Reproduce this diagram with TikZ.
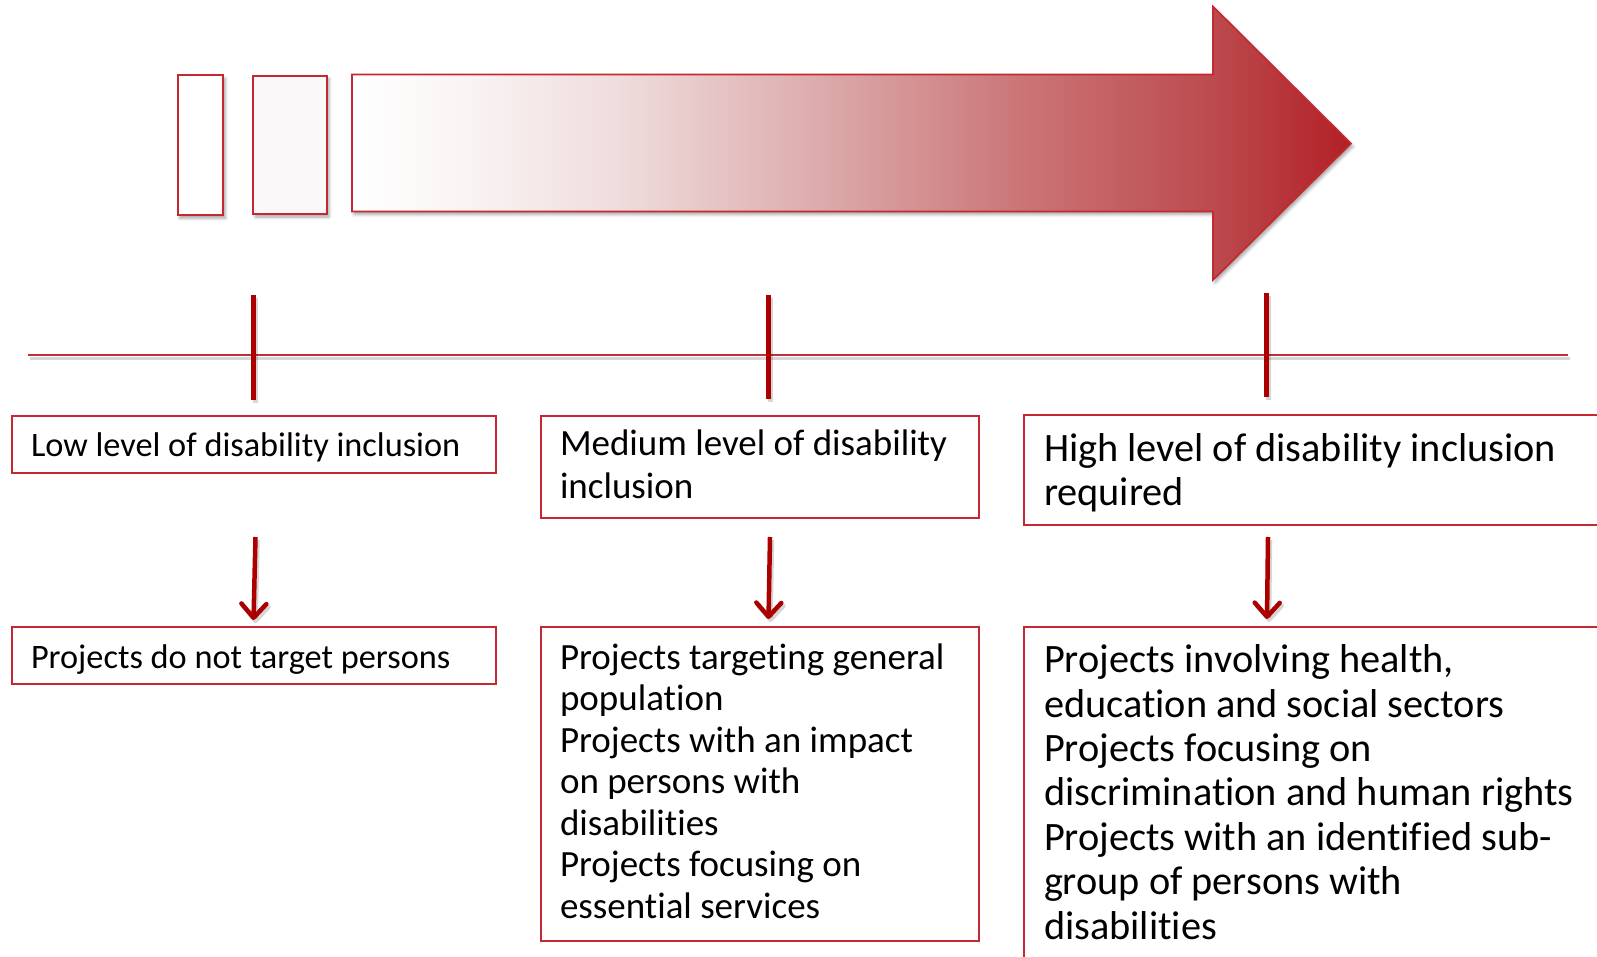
\documentclass[tikz,border=0pt]{standalone}
\usepackage{fontspec}
\setmainfont{Carlito}[RawFeature={-liga;-clig}]
\usetikzlibrary{arrows.meta,shadows.blur}
\definecolor{boxred}{RGB}{196,40,48}
\definecolor{tickred}{RGB}{172,0,0}
\definecolor{linered}{RGB}{192,48,58}
\definecolor{ga}{RGB}{250,245,245}
\definecolor{gb}{RGB}{240,222,222}
\definecolor{gc}{RGB}{220,172,173}
\definecolor{gd}{RGB}{203,118,120}
\definecolor{ge}{RGB}{188,74,78}
\definecolor{gf}{RGB}{178,32,38}
\definecolor{lightfill}{RGB}{250,248,249}
\pgfdeclarehorizontalshading{arrowgrad}{100bp}{color(0bp)=(white); color(25bp)=(white); color(30.3bp)=(ga); color(38bp)=(gb); color(48.2bp)=(gc); color(58.3bp)=(gd); color(68.1bp)=(ge); color(75bp)=(gf); color(100bp)=(gf)}
\begin{document}
\begin{tikzpicture}[x=1pt,y=-1pt,
  box/.style={draw=boxred, line width=2pt, inner sep=0pt, outer sep=0pt, anchor=north west},
  txt/.style={anchor=north west, inner sep=0pt, outer sep=0pt, align=left, text=black},
  tickln/.style={draw=tickred, line width=5pt},
  downarr/.style={draw=tickred, line width=4.5pt, -{Straight Barb[length=14pt,width=25pt,round]}},
  shadowed/.style={blur shadow={shadow xshift=2pt, shadow yshift=-3pt, shadow blur radius=3pt, shadow opacity=35}},
  lnshadow/.style={draw=black, opacity=0.16, transform canvas={shift={(2pt,-3pt)}}},
  smallbox/.style={draw=boxred, line width=2.2pt, inner sep=0pt, outer sep=0pt, anchor=north west, shadowed}
]
\useasboundingbox (0,0) rectangle (1597,957);
\clip (0,0) rectangle (1597,957);

% small rectangles
\node[smallbox, fill=white, minimum width=45.6pt, minimum height=140pt] (r1) at (177.7,75.3) {};
\node[smallbox, fill=lightfill, minimum width=73.7pt, minimum height=138.3pt] (r2) at (253.3,75.7) {};

% big gradient arrow
\path[shadowed, draw=boxred, line width=1.6pt, shade, shading=arrowgrad, line join=miter]
  (352,74.5) -- (1213,74.5) -- (1213,6.5) -- (1351,143.5) -- (1213,280) -- (1213,211.5) -- (352,211.5) -- cycle;

% horizontal axis
\coordinate (axl) at (27.5,355);
\coordinate (axr) at (1568,355);
\draw[lnshadow, line width=3pt] (axl) -- (axr);
\draw[draw=linered, line width=2.2pt] (axl) -- (axr);

% ticks
\coordinate (t1a) at (253.5,295); \coordinate (t1b) at (253.5,400);
\coordinate (t2a) at (768,295);   \coordinate (t2b) at (768,399);
\coordinate (t3a) at (1266,293);  \coordinate (t3b) at (1266,397);
\foreach \a/\b in {t1a/t1b,t2a/t2b,t3a/t3b}{
  \draw[tickln, lnshadow] (\a) -- (\b);
  \draw[tickln] (\a) -- (\b);
}

% boxes
\node[box, minimum width=484pt, minimum height=57.3pt] (lowtop) at (11.7,416) {};
\node[box, minimum width=484.3pt, minimum height=57pt] (lowbot) at (11.7,627.3) {};
\node[box, minimum width=438.3pt, minimum height=102.3pt] (midtop) at (541,416) {};
\node[box, minimum width=438.3pt, minimum height=313.4pt] (midbot) at (541,627.3) {};
\node[box, minimum width=600pt, minimum height=110pt] (hightop) at (1024,415.3) {};
\node[box, minimum width=600pt, minimum height=360pt] (highbot) at (1024,627.3) {};

% texts
\node[txt, font=\fontsize{34.3}{40}\selectfont] (lowtoptext) at (31,426)
  {\rule{0pt}{30pt}Low level of disability inclusion};
\node[txt, font=\fontsize{34.3}{40}\selectfont] (lowbottext) at (31,638.7)
  {\rule{0pt}{30pt}Projects do not target persons};
\node[txt, font=\fontsize{37}{42.6}\selectfont] (midtoptext) at (560,423.7)
  {\rule{0pt}{32pt}Medium level of disability\\inclusion};
\node[txt, font=\fontsize{37}{41.5}\selectfont] (midbottext) at (560,637.3)
  {\rule{0pt}{32pt}Projects targeting general\\population\\Projects with an impact\\on persons with\\disabilities\\Projects focusing on\\essential services};
\node[txt, font=\fontsize{40.3}{44}\selectfont] (hightoptext) at (1044,425)
  {\rule{0pt}{36pt}High level of disability inclusion\\required};
\node[txt, font=\fontsize{40.3}{44.4}\selectfont] (highbottext) at (1044,636.7)
  {\rule{0pt}{36pt}Projects involving health,\\education and social sectors\\Projects focusing on\\discrimination and human rights\\Projects with an identified sub-\\group of persons with\\disabilities};

% down arrows
\coordinate (a1s) at (255.5,537); \coordinate (a1e) at (253.5,620);
\coordinate (a2s) at (770,537);   \coordinate (a2e) at (768.5,619);
\coordinate (a3s) at (1268,537);  \coordinate (a3e) at (1267,619);
\foreach \a/\b in {a1s/a1e,a2s/a2e,a3s/a3e}{
  \draw[downarr, lnshadow] (\a) -- (\b);
  \draw[downarr] (\a) -- (\b);
}
\end{tikzpicture}
\end{document}
